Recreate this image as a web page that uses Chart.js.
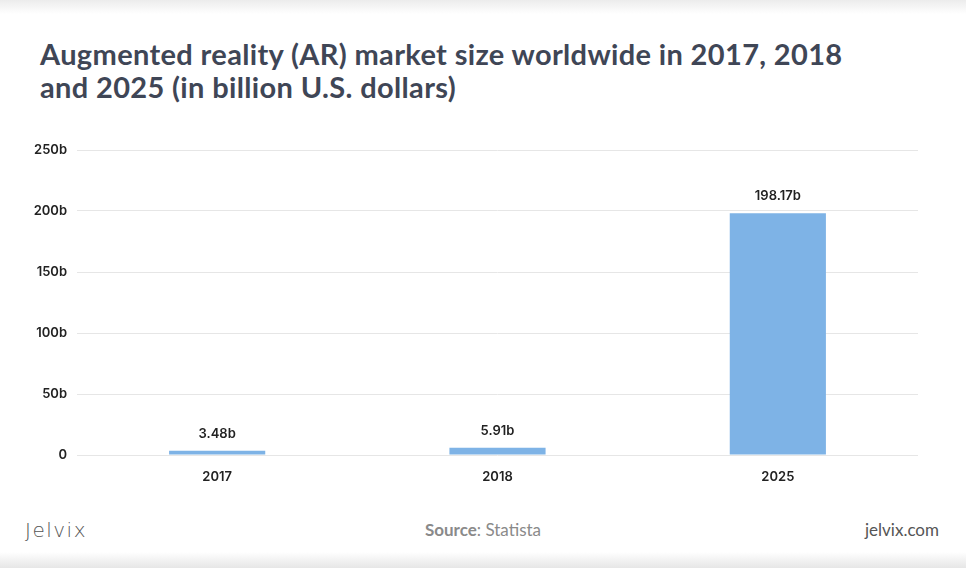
<!DOCTYPE html>
<html>
<head>
<meta charset="utf-8">
<script src="https://cdn.jsdelivr.net/npm/chart.js@4"></script>
<style>
  html, body { margin: 0; padding: 0; background: #fff; }
  body { width: 966px; height: 568px; position: relative; overflow: hidden; font-family: Lato, sans-serif; }
  .topshade { position: absolute; left: 0; top: 0; width: 966px; height: 14px; background: linear-gradient(#ececec, #fff); }
  .botshade { position: absolute; left: 0; top: 552px; width: 966px; height: 16px; background: linear-gradient(#fff, #e6e6e6); }
  #title { position: absolute; left: 40px; top: 37px; font-family: Lato, sans-serif; font-weight: 700; font-size: 29px; line-height: 33px; color: #3f4656; letter-spacing: 0.35px; white-space: nowrap; }
  #wrap { position: absolute; left: 0; top: 130px; width: 966px; height: 370px; }
  .foot { position: absolute; top: 518px; font-size: 17px; line-height: 24px; }
  #brand { left: 25px; font-family: "DejaVu Sans", sans-serif; font-weight: 200; font-size: 20px; color: #555; letter-spacing: 1.5px; }
  #source { left: 0; width: 966px; text-align: center; color: #8a8a8a; font-family: Lato, sans-serif; }
  #source b { font-weight: 700; }
  #site { right: 27px; color: #555; font-family: Lato, sans-serif; }
</style>
</head>
<body>
<div class="topshade"></div>
<div id="title">Augmented reality (AR) market size worldwide in 2017, 2018<br>and 2025 (in billion U.S. dollars)</div>
<div id="wrap"><canvas id="c"></canvas></div>
<div class="foot" id="brand">Jelvix</div>
<div class="foot" id="source"><b>Source</b>: Statista</div>
<div class="foot" id="site">jelvix.com</div>
<div class="botshade"></div>
<script>
const categories = ['2017', '2018', '2025'];
const marketSize = [3.48, 5.91, 198.17];
const valueLabels = ['3.48b', '5.91b', '198.17b'];
const yTicks = [0, 50, 100, 150, 200, 250];

const valueLabelPlugin = {
  id: 'valueLabels',
  afterDatasetsDraw(chart) {
    const ctx = chart.ctx;
    const meta = chart.getDatasetMeta(0);
    ctx.save();
    ctx.font = '600 13px Inter, sans-serif';
    ctx.fillStyle = '#222';
    ctx.textAlign = 'center';
    ctx.textBaseline = 'middle';
    meta.data.forEach((bar, i) => {
      ctx.fillText(valueLabels[i], bar.x, bar.y - 17);
    });
    ctx.restore();
  }
};

new Chart(document.getElementById('c'), {
  type: 'bar',
  data: {
    labels: categories,
    datasets: [{
      data: marketSize,
      backgroundColor: '#7eb3e6',
      borderWidth: 0,
      categoryPercentage: 1,
      barPercentage: 0.343
    }]
  },
  options: {
    responsive: true,
    maintainAspectRatio: false,
    animation: false,
    layout: { padding: { top: 20, right: 48, left: 0, bottom: 0 } },
    plugins: { legend: { display: false }, tooltip: { enabled: false } },
    scales: {
      x: {
        grid: { display: false },
        border: { display: false },
        ticks: { color: '#222', font: { family: 'Inter, sans-serif', size: 13, weight: 600 }, padding: 6 },
        afterFit(scale) { scale.height = 45; }
      },
      y: {
        min: 0, max: 250,
        afterBuildTicks(scale) { scale.ticks = yTicks.map(v => ({ value: v })); },
        grid: { color: '#e6e6e6', drawTicks: false, lineWidth: 1 },
        border: { display: false },
        ticks: {
          color: '#222',
          font: { family: 'Inter, sans-serif', size: 13, weight: 600 },
          padding: 10,
          callback: v => v === 0 ? '0' : v + 'b'
        },
        afterFit(scale) { scale.width = 77; }
      }
    }
  },
  plugins: [valueLabelPlugin]
});
</script>
</body>
</html>
